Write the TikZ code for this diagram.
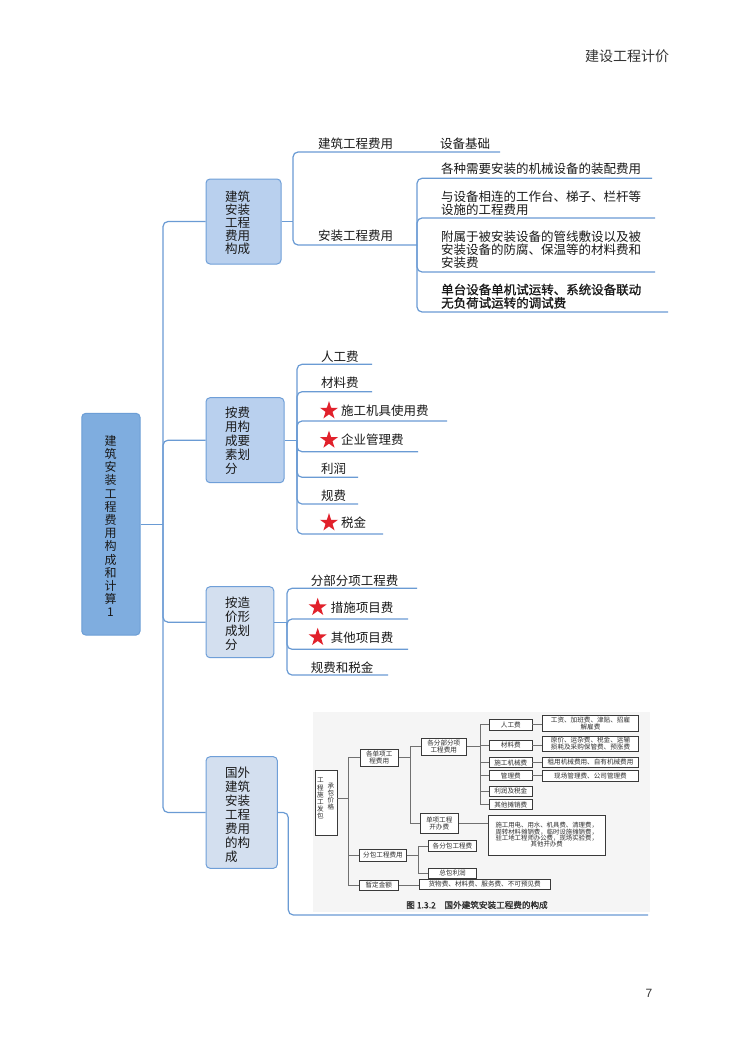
\documentclass[tikz,border=0pt]{standalone}
\usepackage{fontspec}
\setmainfont{Liberation Sans}
\newfontfamily\cjk{Noto Sans CJK SC}
\newfontfamily\cjkb[FakeBold=1.2]{Noto Sans CJK SC}
\usetikzlibrary{shapes.geometric}
\definecolor{connc}{HTML}{6A9BD4}
\definecolor{rootfill}{HTML}{7FADDF}
\definecolor{rootdraw}{HTML}{6C9ED6}
\definecolor{boxa}{HTML}{B9D0EE}
\definecolor{boxb}{HTML}{D3DFEF}
\definecolor{boxdraw}{HTML}{6F9FD8}
\definecolor{starred}{HTML}{E1212B}
\definecolor{figline}{HTML}{707070}
\definecolor{figbox}{HTML}{3A3A3A}
\definecolor{figtext}{HTML}{2E2E2E}
\definecolor{figbg}{HTML}{F5F5F5}
\begin{document}
\begin{tikzpicture}[x=1pt,y=-1pt,
  conn/.style={draw=connc, line width=1.2pt, rounded corners=5pt},
  mbox/.style={draw=boxdraw, line width=1pt, rounded corners=4pt, inner sep=0},
  lbl/.style={anchor=west, inner sep=0, font=\cjk\fontsize{12.5}{12.9}\selectfont, align=left, text=black!90},
  btxt/.style={anchor=west, inner sep=0, align=left, text=black!90},
  starnode/.style={star, star points=5, star point ratio=2.6, fill=starred, draw=none, minimum size=19pt, inner sep=0},
  fbox/.style={draw=figbox, line width=0.8pt, fill=white, inner sep=0.5pt, font=\cjk\fontsize{6.6}{7.2}\selectfont, text=figtext, align=center},
  fline/.style={draw=figline, line width=0.7pt}]
\useasboundingbox (0,0) rectangle (743,1052);
\fill[white] (0,0) rectangle (743,1052);

% header and page number
\node[font=\cjk\fontsize{14}{16}\selectfont, text=black!80, inner sep=0] (hdr) at (627,56) {建设工程计价};
\node[font=\fontsize{12}{14}\selectfont, text=black!80, inner sep=0] (pg) at (649,993) {7};

% root
\node[draw=rootdraw, fill=rootfill, line width=1pt, rounded corners=4pt, minimum width=58.3pt, minimum height=221.7pt, inner sep=0] (root) at (110.9,524.2) {};
\node[inner sep=0, align=center, font=\cjk\fontsize{12}{13.2}\selectfont, text=black!90] (roott) at (110.5,526) {建\\筑\\安\\装\\工\\程\\费\\用\\构\\成\\和\\计\\算\\1};

% level-1 boxes
\node[mbox, fill=boxa, minimum width=75pt, minimum height=85pt] (b1) at (243.5,221.5) {};
\node[mbox, fill=boxa, minimum width=78pt, minimum height=85pt] (b2) at (245,440.2) {};
\node[mbox, fill=boxb, minimum width=67.7pt, minimum height=71pt] (b3) at (239.9,622.2) {};
\node[mbox, fill=boxb, minimum width=71.3pt, minimum height=111.6pt] (b4) at (241.7,812.5) {};
\node[btxt, font=\cjk\fontsize{12.5}{12.9}\selectfont] (b1t) at (225,222.5) {建筑\\安装\\工程\\费用\\构成};
\node[btxt, font=\cjk\fontsize{12.5}{13.9}\selectfont] (b2t) at (225,440.5) {按费\\用构\\成要\\素划\\分};
\node[btxt, font=\cjk\fontsize{12.5}{14}\selectfont] (b3t) at (225,623.3) {按造\\价形\\成划\\分};
\node[btxt, font=\cjk\fontsize{12.5}{14}\selectfont] (b4t) at (225,814.8) {国外\\建筑\\安装\\工程\\费用\\的构\\成};

% root connectors
\coordinate (jr) at (163,524.2);
\draw[conn] (root.east) -- (jr);
\draw[conn] (jr) |- (b1.west);
\draw[conn] (jr) |- (b2.west);
\draw[conn] (jr) |- (b3.west);
\draw[conn] (jr) |- (b4.west);

% ---- box 1 children
\coordinate (j1) at (293,221.5);
\coordinate (e11) at (500,152);
\coordinate (e12) at (417,245);
\coordinate (e121) at (652,178.3);
\coordinate (e122) at (655,218);
\coordinate (e123) at (655,272);
\coordinate (e124) at (668,312);
\draw[conn] (b1.east) -- (j1);
\draw[conn] (j1) |- (e11);
\draw[conn] (j1) |- (e12);
\draw[conn] (e12) |- (e121);
\draw[conn] (e12) |- (e122);
\draw[conn] (e12) |- (e123);
\draw[conn] (e12) |- (e124);
\node[lbl] (l11) at (318,144) {建筑工程费用};
\node[lbl] (l111) at (440,144) {设备基础};
\node[lbl] (l12) at (318,236) {安装工程费用};
\node[lbl] (l121) at (441,169) {各种需要安装的机械设备的装配费用};
\node[lbl] (l122) at (441,203.2) {与设备相连的工作台、梯子、栏杆等\\设施的工程费用};
\node[lbl] (l123) at (441,249.5) {附属于被安装设备的管线敷设以及被\\安装设备的防腐、保温等的材料费和\\安装费};
\node[lbl, font=\cjkb\fontsize{12.5}{13.3}\selectfont] (l124) at (441,296.2) {单台设备单机试运转、系统设备联动\\无负荷试运转的调试费};

% ---- box 2 children
\coordinate (j2) at (297,440.2);
\coordinate (e21) at (372,364.3);
\coordinate (e22) at (372,391.7);
\coordinate (e23) at (447,421);
\coordinate (e24) at (418,451.7);
\coordinate (e25) at (358,477.3);
\coordinate (e26) at (358,504);
\coordinate (e27) at (383,534);
\draw[conn] (b2.east) -- (j2);
\foreach \e in {e21,e22,e23,e24,e25,e26,e27} \draw[conn] (j2) |- (\e);
\node[lbl] (l21) at (321,356.7) {人工费};
\node[lbl] (l22) at (321,382.7) {材料费};
\node[starnode] (s23) at (329,410.7) {};
\node[lbl] (l23) at (341,410.7) {施工机具使用费};
\node[starnode] (s24) at (329,440) {};
\node[lbl] (l24) at (341,440) {企业管理费};
\node[lbl] (l25) at (321,469) {利润};
\node[lbl] (l26) at (321,495.7) {规费};
\node[starnode] (s27) at (329,522.7) {};
\node[lbl] (l27) at (341,522.7) {税金};

% ---- box 3 children
\coordinate (j3) at (287,622.2);
\coordinate (e31) at (417,588.3);
\coordinate (e32) at (408,619);
\coordinate (e33) at (408,649.3);
\coordinate (e34) at (388,675);
\draw[conn] (b3.east) -- (j3);
\foreach \e in {e31,e32,e33,e34} \draw[conn] (j3) |- (\e);
\node[lbl] (l31) at (310.7,580.7) {分部分项工程费};
\node[starnode] (s32) at (317.7,607.3) {};
\node[lbl] (l32) at (330.7,607.3) {措施项目费};
\node[starnode] (s33) at (317.7,637.3) {};
\node[lbl] (l33) at (330.7,637.3) {其他项目费};
\node[lbl] (l34) at (310.7,667.3) {规费和税金};

% ---- box 4 child: embedded figure
\coordinate (j4) at (288.3,812.5);
\coordinate (e41) at (648,915);
\fill[figbg] (313,712) rectangle (650,912);
\draw[conn] (b4.east) -- (j4) |- (e41);

% figure boxes
\node[fbox, minimum width=22pt, minimum height=65pt] (fA) at (326,802.5) {};
\node[inner sep=0, align=center, font=\cjk\fontsize{6.6}{7.1}\selectfont, text=figtext] (fAt1) at (320.3,798.5) {工\\程\\施\\工\\发\\包};
\node[inner sep=0, align=center, font=\cjk\fontsize{6.6}{7.1}\selectfont, text=figtext] (fAt2) at (331,796.5) {承\\包\\价\\格};
\node[fbox, minimum width=38.3pt, minimum height=17.7pt] (fB) at (379.2,757.8) {各单项工\\程费用};
\node[fbox, minimum width=45.7pt, minimum height=16.7pt] (fC) at (443.8,746.7) {各分部分项\\工程费用};
\node[fbox, minimum width=42.5pt, minimum height=11pt] (fD1) at (510.8,724.8) {人工费};
\node[fbox, minimum width=42.5pt, minimum height=10.7pt] (fD2) at (510.8,745.3) {材料费};
\node[fbox, minimum width=42.5pt, minimum height=10pt] (fD3) at (510.8,762.5) {施工机械费};
\node[fbox, minimum width=42.5pt, minimum height=10pt] (fD4) at (510.8,775.5) {管理费};
\node[fbox, minimum width=42.5pt, minimum height=10pt] (fD5) at (510.8,791) {利润及税金};
\node[fbox, minimum width=42.5pt, minimum height=10pt] (fD6) at (510.8,804.6) {其他摊销费};
\node[fbox, minimum width=95.6pt, minimum height=16.7pt, font=\cjk\fontsize{6.6}{6.9}\selectfont] (fE1) at (590.5,723.3) {工资、加班费、津贴、招雇\\解雇费};
\node[fbox, minimum width=95.6pt, minimum height=15.7pt, font=\cjk\fontsize{6.6}{6.9}\selectfont] (fE2) at (590.5,743.8) {原价、运杂费、税金、运输\\损耗及采购保管费、预涨费};
\node[fbox, minimum width=95.6pt, minimum height=9.5pt] (fE3) at (590.5,762.2) {租用机械费用、自有机械费用};
\node[fbox, minimum width=95.6pt, minimum height=10.3pt] (fE4) at (590.5,775.8) {现场管理费、公司管理费};
\node[fbox, minimum width=38.3pt, minimum height=20pt] (fF) at (439.2,823.3) {单项工程\\开办费};
\node[fbox, minimum width=116.7pt, minimum height=40pt, font=\cjk\fontsize{6.4}{6.3}\selectfont] (fG) at (546.7,835) {施工用电、用水、机具费、清理费，\\周转材料摊销费，临时设施摊销费，\\驻工地工程师办公费，现场实验费，\\其他开办费};
\node[fbox, minimum width=47.4pt, minimum height=12.5pt] (fH) at (383,855.2) {分包工程费用};
\node[fbox, minimum width=48.4pt, minimum height=11pt] (fI1) at (452.5,846.2) {各分包工程费};
\node[fbox, minimum width=48.4pt, minimum height=10pt] (fI2) at (452.5,873.3) {总包利润};
\node[fbox, minimum width=39pt, minimum height=10pt] (fJ) at (378.8,885) {暂定金额};
\node[fbox, minimum width=130.7pt, minimum height=10.5pt] (fK) at (484.7,884.3) {货物费、材料费、服务费、不可预见费};
\node[inner sep=0, font=\cjkb\fontsize{8.6}{9}\selectfont, text=figtext] (fcap) at (477,905) {图 1.3.2\quad 国外建筑安装工程费的构成};

% figure connectors
\coordinate (fja) at (348,798);
\coordinate (fjb) at (410,757.8);
\coordinate (fjc) at (480,746.7);
\coordinate (fjh) at (418,855.2);
\draw[fline] (fA.east |- fja) -- (fja);
\draw[fline] (fja) |- (fB.west);
\draw[fline] (fja) |- (fH.west);
\draw[fline] (fja) |- (fJ.west);
\draw[fline] (fB.east) -- (fjb);
\draw[fline] (fjb) |- (fC.west);
\draw[fline] (fjb) |- (fF.west);
\draw[fline] (fC.east) -- (fjc);
\foreach \d in {fD1,fD2,fD3,fD4,fD5,fD6} \draw[fline] (fjc) |- (\d.west);
\draw[fline] (fD1.east) -- (fD1.east -| fE1.west);
\draw[fline] (fD2.east) -- (fD2.east -| fE2.west);
\draw[fline] (fD3.east) -- (fD3.east -| fE3.west);
\draw[fline] (fD4.east) -- (fD4.east -| fE4.west);
\draw[fline] (fF.east) -- (fF.east -| fG.west);
\draw[fline] (fH.east) -- (fjh);
\draw[fline] (fjh) |- (fI1.west);
\draw[fline] (fjh) |- (fI2.west);
\draw[fline] (fJ.east) -- (fJ.east -| fK.west);
\end{tikzpicture}
\end{document}
